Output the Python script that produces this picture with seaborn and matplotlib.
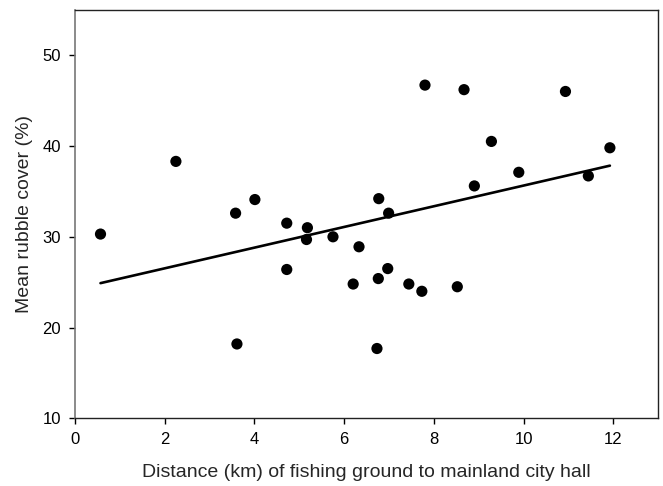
import numpy as np
import pandas as pd
import matplotlib
matplotlib.use("Agg")
import matplotlib.pyplot as plt
import seaborn as sns

# distance (km) of fishing ground to mainland city hall
distancia = [0.57, 2.25, 3.58, 3.61, 4.01, 4.72, 4.72, 5.18, 5.16, 5.75,
             6.33, 6.20, 6.77, 6.99, 6.97, 6.76, 6.73, 7.44, 7.73, 7.80,
             8.52, 8.67, 8.90, 9.28, 9.89, 10.93, 11.44, 11.92]
# mean rubble cover (%)
cobertura = [30.3, 38.3, 32.6, 18.2, 34.1, 31.5, 26.4, 31.0, 29.7, 30.0,
             28.9, 24.8, 34.2, 32.6, 26.5, 25.4, 17.7, 24.8, 24.0, 46.7,
             24.5, 46.2, 35.6, 40.5, 37.1, 46.0, 36.7, 39.8]

xticks = [0, 2, 4, 6, 8, 10, 12]
yticks = [10, 20, 30, 40, 50]

df = pd.DataFrame({"dist": distancia, "rubble": cobertura})

sns.set_style("ticks")
plt.rcParams["font.family"] = ["Liberation Sans", "DejaVu Sans"]

fig = plt.figure(figsize=(6.63, 4.86), dpi=100)
ax = fig.add_axes([0.113, 0.139, 0.880, 0.841])

sns.regplot(data=df, x="dist", y="rubble", ax=ax, ci=None,
            scatter_kws=dict(s=65, color="black", edgecolor="none", alpha=1),
            line_kws=dict(color="black", lw=1.9))

ax.set_xlim(0, 13)
ax.set_ylim(10, 55)
ax.set_xticks(xticks)
ax.set_yticks(yticks)
ax.tick_params(direction="out", length=4, width=1, pad=6, labelsize=12, colors="black")

# marco: izquierda gris, resto oscuro
for lado in ["top", "right", "bottom"]:
    ax.spines[lado].set_visible(True)
    ax.spines[lado].set_color("#222222")
    ax.spines[lado].set_linewidth(1)
ax.spines["left"].set_color("#777777")
ax.spines["left"].set_linewidth(1.2)

ax.set_xlabel("Distance (km) of fishing ground to mainland city hall",
              fontsize=14, labelpad=12)
ax.set_ylabel("Mean rubble cover (%)", fontsize=14, labelpad=7)

plt.savefig("out.png", dpi=100)
plt.close()
